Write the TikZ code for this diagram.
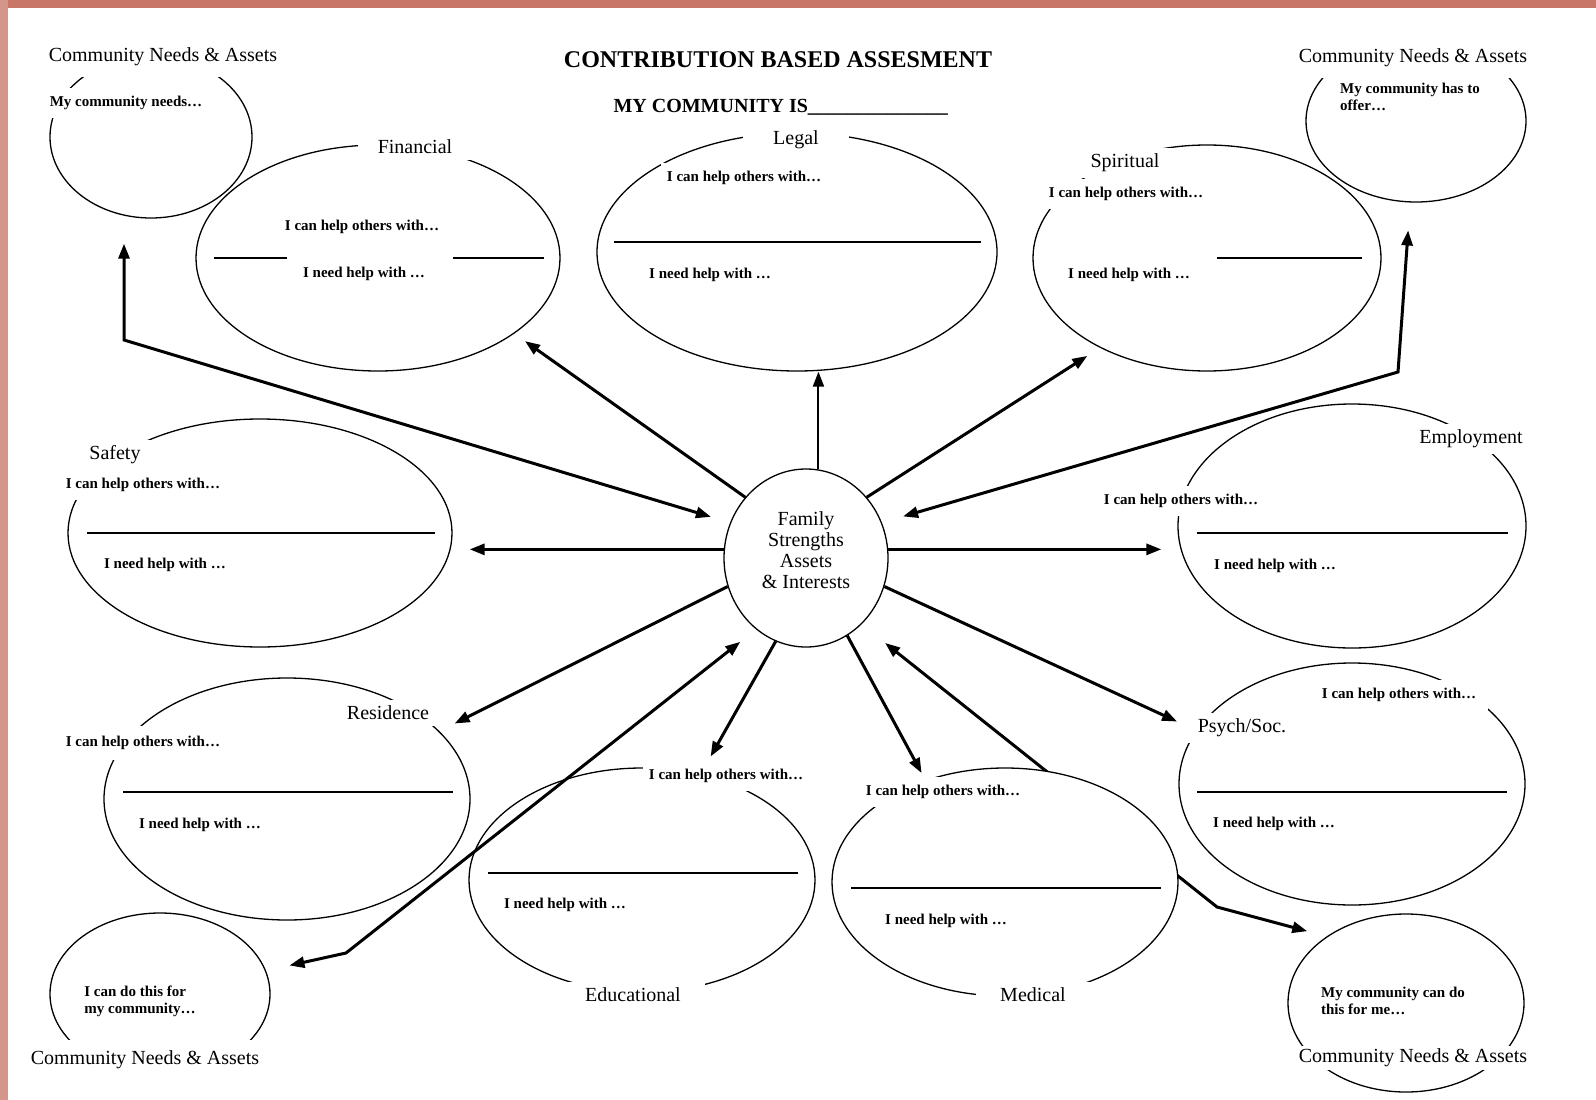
\documentclass[tikz,border=0pt]{standalone}
\usepackage{fontspec}
\setmainfont{Liberation Serif}
\usetikzlibrary{arrows.meta,shapes.geometric,backgrounds}

\definecolor{bandtop}{RGB}{199,118,104}
\definecolor{bandleft}{RGB}{212,150,138}

\begin{document}
\begin{tikzpicture}[
        x=1pt,
        y=-1pt,
        ring/.style={
            ellipse,
            draw=black,
            line width=1.3pt,
            inner sep=0pt,
        },
        heading/.style={
            font=\fontsize{24}{28}\selectfont\bfseries,
        },
        topic/.style={
            fill=white,
            inner xsep=20pt,
            inner ysep=6pt,
            font=\fontsize{20}{24}\selectfont,
        },
        cna/.style={
            fill=white,
            inner xsep=4pt,
            minimum height=40pt,
            font=\fontsize{20}{24}\selectfont,
        },
        note/.style={
            fill=white,
            inner xsep=6pt,
            inner ysep=8pt,
            font=\fontsize{15}{17}\selectfont\bfseries,
        },
        divider/.style={
            line width=2pt,
        },
        link/.style={
            -{Triangle[length=15pt,width=11pt]},
            line width=3pt,
        },
        twoway/.style={
            {Triangle[length=15pt,width=11pt]}-{Triangle[length=15pt,width=11pt]},
            line width=3pt,
        },
    ]
    \useasboundingbox (0,0) rectangle (1596,1100);

    % circles and ovals
    \node [ring, minimum width=164pt, minimum height=178pt, align=center, text depth=16pt,
        font=\fontsize{20}{21}\selectfont] (family) at (806,558)
        {Family\\Strengths\\Assets\\\& Interests};
    \node [ring, minimum width=202pt, minimum height=162pt] (cnaNW) at (151,137) {};
    \node [ring, minimum width=220pt, minimum height=162pt] (cnaNE) at (1416,121) {};
    \node [ring, minimum width=220pt, minimum height=162pt] (cnaSW) at (160,994) {};
    \node [ring, minimum width=236pt, minimum height=178pt] (cnaSE) at (1406,1003) {};
    \node [ring, minimum width=364pt, minimum height=226pt] (fin) at (378,258) {};
    \node [ring, minimum width=400pt, minimum height=238pt] (legal) at (797,252) {};
    \node [ring, minimum width=348pt, minimum height=226pt] (spirit) at (1207,258) {};
    \node [ring, minimum width=384pt, minimum height=228pt] (safety) at (260,533) {};
    \node [ring, minimum width=348pt, minimum height=244pt] (employ) at (1352,526) {};
    \node [ring, minimum width=366pt, minimum height=242pt] (resid) at (287,799) {};
    \node [ring, minimum width=346pt, minimum height=242pt] (psych) at (1352,784) {};
    \node [ring, minimum width=346pt, minimum height=224pt] (educ) at (642,880) {};
    \node [ring, fill=white, minimum width=346pt, minimum height=228pt] (medic) at (1005,882) {};

    % answer lines
    \draw [divider] (214,258) -- (287,258);
    \draw [divider] (453,258) -- (544,258);
    \draw [divider] (614,242) -- (981,242);
    \draw [divider] (1217,258) -- (1362,258);
    \draw [divider] (87,533) -- (435,533);
    \draw [divider] (1197,533) -- (1508,533);
    \draw [divider] (123,792) -- (453,792);
    \draw [divider] (1197,792) -- (1507,792);
    \draw [divider] (488,873) -- (798,873);
    \draw [divider] (851,888) -- (1161,888);

    % headings
    \node [heading] (title) at (778,60) {CONTRIBUTION BASED ASSESMENT};
    \node [heading, font=\fontsize{20}{24}\selectfont\bfseries, anchor=base west] (myComm)
        at (610,112) {MY COMMUNITY IS\_\_\_\_\_\_\_\_\_\_\_\_\_\_};

    \node [cna] (cnaNWlbl) at (163,57) {Community Needs \& Assets};
    \node [cna] (cnaNElbl) at (1413,58) {Community Needs \& Assets};
    \node [cna] (cnaSWlbl) at (145,1060) {Community Needs \& Assets};
    \node [cna, minimum height=24pt, inner ysep=1pt] (cnaSElbl) at (1413,1058) {Community Needs \& Assets};

    \node [note] (cnaNWtxt) at (126,103) {My community needs…};
    \node [note, align=left] (cnaNEtxt) at (1410,97) {My community has to\\offer…};
    \node [note, align=left] (cnaSWtxt) at (140,1001) {I can do this for\\my community…};
    \node [note, align=left] (cnaSEtxt) at (1393,1001) {My community can do\\this for me…};

    \node [topic] (finLbl) at (415,147) {Financial};
    \node [topic, inner xsep=30pt] (legalLbl) at (796,140) {Legal};
    \node [topic] (spiritLbl) at (1125,163) {Spiritual};
    \node [topic] (safetyLbl) at (115,455) {Safety};
    \node [topic] (employLbl) at (1471,439) {Employment};
    \node [topic] (residLbl) at (388,713) {Residence};
    \node [topic] (psychLbl) at (1242,728) {Psych/Soc.};
    \node [topic, inner xsep=24pt] (educLbl) at (633,995) {Educational};
    \node [topic, inner xsep=24pt] (medicLbl) at (1033,995) {Medical};

    \node [note] (finCan) at (362,227) {I can help others with…};
    \node [note] (finNeed) at (364,274) {I need help with …};
    \node [note] (legalCan) at (744,178) {I can help others with…};
    \node [note] (legalNeed) at (710,275) {I need help with …};
    \node [note] (spiritCan) at (1126,194) {I can help others with…};
    \node [note] (spiritNeed) at (1129,275) {I need help with …};
    \node [note] (safetyCan) at (143,485) {I can help others with…};
    \node [note] (safetyNeed) at (165,565) {I need help with …};
    \node [note] (employCan) at (1181,501) {I can help others with…};
    \node [note] (employNeed) at (1275,566) {I need help with …};
    \node [note, inner ysep=10pt] (residCan) at (143,743) {I can help others with…};
    \node [note] (residNeed) at (200,825) {I need help with …};
    \node [note, inner xsep=12pt] (psychCan) at (1399,695) {I can help others with…};
    \node [note] (psychNeed) at (1274,824) {I need help with …};
    \node [note] (educCan) at (726,776) {I can help others with…};
    \node [note] (educNeed) at (565,905) {I need help with …};
    \node [note] (medicCan) at (943,792) {I can help others with…};
    \node [note] (medicNeed) at (946,921) {I need help with …};

    % bends of the community arrows
    \coordinate (bendNW) at (124,340);
    \coordinate (bendNE) at (1398,372);
    \coordinate (bendSW) at (346,953);
    \coordinate (bendSE) at (1217,907);

    % arrows
    \draw [link, shorten >=13pt] (family.135) -- (fin.-29);
    \draw [link, line width=2pt] (family.82) -- (family.82 |- legal.south);
    \draw [link, shorten >=15pt] (family.45) -- (spirit.-140);
    \draw [link, shorten >=17pt] (family.174) -- (family.174 -| safety.east);
    \draw [link, shorten >=16pt] (family.6) -- (family.6 -| employ.west);
    \draw [link, shorten >=17pt] (family.200) -- (resid.24);
    \draw [link, shorten >=21pt] (family.-20) -- (psych.161);
    \draw [link, shorten >=20pt] (family.-110) -- (educ.61);
    \draw [link, shorten >=8pt] (family.-62) -- (medic.128);

    \draw [twoway, shorten <=20pt, shorten >=25pt] (family.155) -- (bendNW) -- (bendNW |- cnaNW.south);
    \draw [twoway, shorten <=22pt, shorten >=28pt] (family.25) -- (bendNE) -- (cnaNE);
    \draw [twoway, shorten <=20pt, shorten >=24pt] (family.-125) -- (bendSW) -- (cnaSW);

    \begin{scope}[on background layer]
        \fill [white] (0,0) rectangle (1596,1100);
        \fill [bandtop] (0,0) rectangle (1596,8);
        \fill [bandleft] (0,0) rectangle (8,1100);
        \draw [twoway, shorten <=30pt, shorten >=20pt] (family.-50) -- (bendSE) -- (cnaSE.140);
    \end{scope}
\end{tikzpicture}
\end{document}
